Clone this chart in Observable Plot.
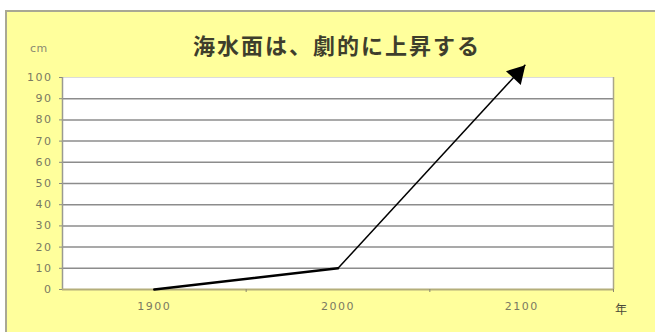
<!DOCTYPE html>
<html>
<head>
<meta charset="utf-8">
<script src="https://cdn.jsdelivr.net/npm/d3@7"></script>
<script src="https://cdn.jsdelivr.net/npm/@observablehq/plot@0.6"></script>
<style>
  html, body { margin: 0; padding: 0; background: #ffffff; }
  #panel {
    position: absolute; left: 5px; top: 10px; width: 648px; height: 320px;
    background: #ffff9c; border-top: 2px solid #a9a894; border-left: 2px solid #a9a894;
    overflow: hidden;
  }
  #chart { position: absolute; left: 0; top: 0; }
  .lbl { position: absolute; white-space: nowrap; }
  #title { left: 186px; top: 16px; font: bold 22px "Noto Sans CJK JP", sans-serif; color: #3e3e2c; letter-spacing: 2px; }
  #unit { left: 23px; top: 30px; font: 11px "DejaVu Sans", sans-serif; color: #8a8a72; letter-spacing: 0.5px; }
  #xunit { left: 608px; top: 288px; font: 12px "Noto Sans CJK JP", sans-serif; color: #4a4a3a; }
</style>
</head>
<body>
<div id="panel">
  <div id="chart"></div>
  <div class="lbl" id="title">海水面は、劇的に上昇する</div>
  <div class="lbl" id="unit">cm</div>
  <div class="lbl" id="xunit">年</div>
</div>
<script>
// Observed sea level (cm) by year
const years = [1900, 2000];
const levels = [0, 10];

// Projected rise: arrow from the last observation toward the future
const arrowFrom = {year: 2000, level: 10};
const arrowTo = {year: 2102, level: 106};

// Axis ticks
const yTicks = [0, 10, 20, 30, 40, 50, 60, 70, 80, 90, 100];
const gridLevels = [10, 20, 30, 40, 50, 60, 70, 80, 90];
const yearLabels = [1900, 2000, 2100];
const yearBounds = [1850, 1950, 2050, 2150];

const observed = years.map((y, i) => ({year: y, level: levels[i]}));

const chart = Plot.plot({
  width: 648,
  height: 320,
  marginLeft: 55,
  marginRight: 42,
  marginTop: 65,
  marginBottom: 43,
  style: {background: "transparent", fontFamily: "DejaVu Sans, sans-serif", fontSize: "11px", color: "#7a7a62", letterSpacing: "1.5px"},
  x: {domain: [yearBounds[0], yearBounds[3]]},
  y: {domain: [0, 100]},
  marks: [
    Plot.frame({fill: "white", stroke: null}),
    Plot.ruleY(gridLevels, {stroke: "#8c8c8c", strokeWidth: 1.5}),
    Plot.ruleY([100], {stroke: "#dcdcdc", strokeWidth: 1}),
    Plot.ruleX([yearBounds[3]], {stroke: "#aaa68a", strokeWidth: 1.5}),
    Plot.ruleX([yearBounds[0]], {stroke: "#9a9a90", strokeWidth: 1.5}),
    Plot.ruleY([0], {stroke: "#b4ae7a", strokeWidth: 2}),
    Plot.axisY({ticks: yTicks, tickSize: 3, tickPadding: 7, label: null, stroke: "#8a8a80"}),
    Plot.axisX({ticks: yearBounds.slice(1), tickSize: 3, tickFormat: () => "", label: null, stroke: "#8a8670"}),
    Plot.axisX({ticks: yearLabels, tickSize: 0, tickPadding: 13, tickFormat: d => String(d), label: null}),
    Plot.line(observed, {x: "year", y: "level", stroke: "black", strokeWidth: 2.5}),
    Plot.link([{...arrowFrom, toYear: arrowTo.year, toLevel: arrowTo.level}], {
      x1: "year", y1: "level", x2: "toYear", y2: "toLevel", stroke: "black", strokeWidth: 1.5
    }),
    Plot.dot([arrowTo], {
      x: "year", y: "level", symbol: "triangle", r: 7.5, fill: "black", stroke: null,
      rotate: 43, dx: -8, dy: 9
    })
  ]
});
document.getElementById("chart").append(chart);
</script>
</body>
</html>
